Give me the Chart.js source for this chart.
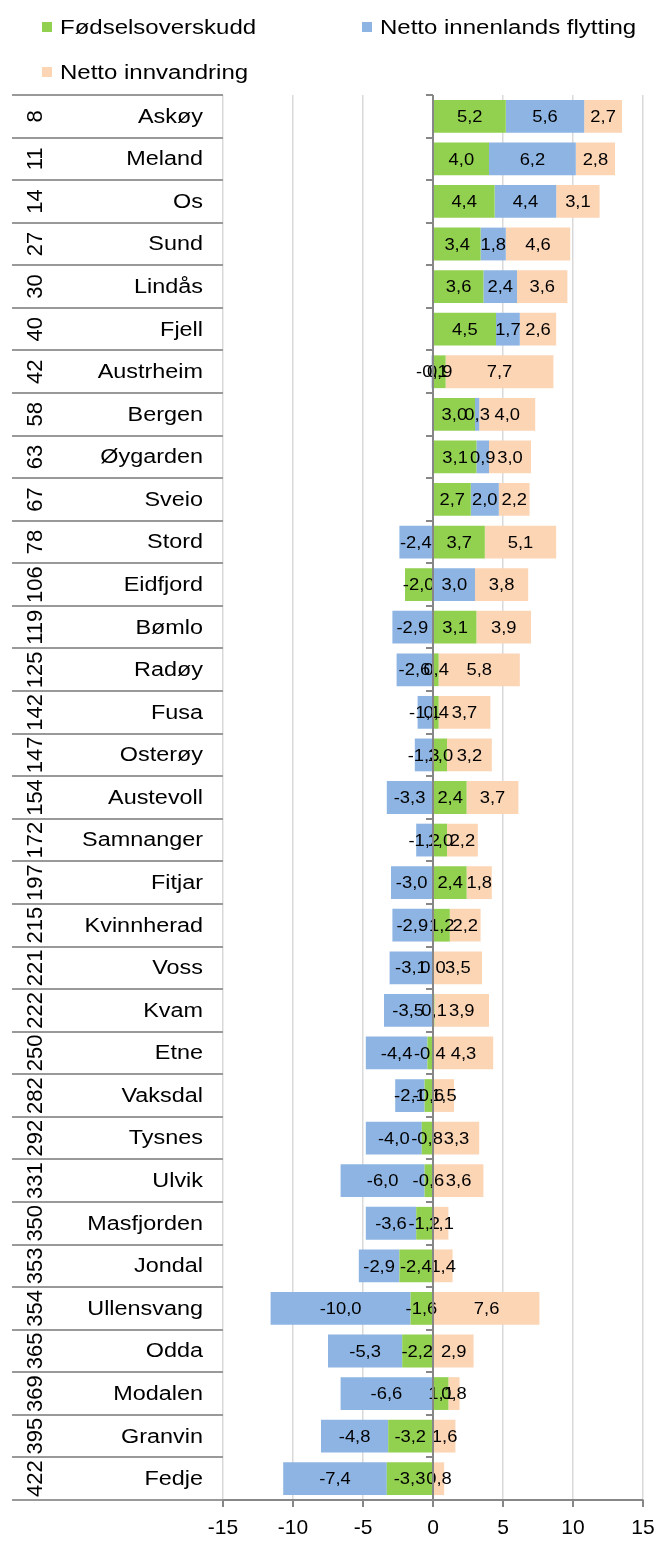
<!DOCTYPE html>
<html>
<head>
<meta charset="utf-8">
<script src="https://cdn.jsdelivr.net/npm/chart.js@4.4.1/dist/chart.umd.min.js"></script>
<style>
  body { margin: 0; background: #fff; font-family: "Liberation Sans", Arial, sans-serif; }
  #wrap { position: relative; width: 657px; height: 1549px; }
  #wrap canvas { position: absolute; left: 0; top: 0; }
  .lg { position: absolute; height: 24px; line-height: 24px; font-size: 20px; color: #000; white-space: nowrap; }
  .lg i { position: absolute; left: 0; top: 7px; width: 10px; height: 10px; }
  .lg span { position: absolute; left: 18px; top: 0; transform: scaleX(1.2); transform-origin: left center; }
</style>
</head>
<body>
<div id="wrap">
  <canvas id="chart" width="657" height="1549"></canvas>
  <div class="lg" style="left:42px;top:15px"><i style="background:#92d050"></i><span>Fødselsoverskudd</span></div>
  <div class="lg" style="left:362px;top:15px"><i style="background:#8db4e2"></i><span>Netto innenlands flytting</span></div>
  <div class="lg" style="left:42px;top:60px"><i style="background:#fcd5b5"></i><span>Netto innvandring</span></div>
</div>
<script>
const ranks = [8, 11, 14, 27, 30, 40, 42, 58, 63, 67, 78, 106, 119, 125, 142, 147, 154,
  172, 197, 215, 221, 222, 250, 282, 292, 331, 350, 353, 354, 365, 369, 395, 422];
const kommuner = ["Askøy", "Meland", "Os", "Sund", "Lindås", "Fjell", "Austrheim", "Bergen",
  "Øygarden", "Sveio", "Stord", "Eidfjord", "Bømlo", "Radøy", "Fusa", "Osterøy", "Austevoll",
  "Samnanger", "Fitjar", "Kvinnherad", "Voss", "Kvam", "Etne", "Vaksdal", "Tysnes", "Ulvik",
  "Masfjorden", "Jondal", "Ullensvang", "Odda", "Modalen", "Granvin", "Fedje"];
const fodselsoverskudd = [5.2, 4.0, 4.4, 3.4, 3.6, 4.5, 0.9, 3.0, 3.1, 2.7, 3.7, -2.0, 3.1, 0.4,
  0.4, 1.0, 2.4, 1.0, 2.4, 1.2, 0.0, 0.1, -0.4, -0.6, -0.8, -0.6, -1.2, -2.4, -1.6, -2.2, 1.1, -3.2, -3.3];
const innenlandsFlytting = [5.6, 6.2, 4.4, 1.8, 2.4, 1.7, -0.1, 0.3, 0.9, 2.0, -2.4, 3.0, -2.9, -2.6,
  -1.1, -1.3, -3.3, -1.2, -3.0, -2.9, -3.1, -3.5, -4.4, -2.1, -4.0, -6.0, -3.6, -2.9, -10.0, -5.3, -6.6, -4.8, -7.4];
const innvandring = [2.7, 2.8, 3.1, 4.6, 3.6, 2.6, 7.7, 4.0, 3.0, 2.2, 5.1, 3.8, 3.9, 5.8,
  3.7, 3.2, 3.7, 2.2, 1.8, 2.2, 3.5, 3.9, 4.3, 1.5, 3.3, 3.6, 1.1, 1.4, 7.6, 2.9, 0.8, 1.6, 0.8];
const xTicks = [-15, -10, -5, 0, 5, 10, 15];

const AXIS_GREY = "#878787";

function drawStretched(ctx, text, x, y, align, sx) {
  ctx.save();
  ctx.translate(x, y);
  ctx.scale(sx, 1);
  ctx.textAlign = align;
  ctx.fillText(text, 0, 0);
  ctx.restore();
}

const fmt = (v) => v.toFixed(1).replace(".", ",");

const decor = {
  id: "decor",
  afterDatasetsDraw(chart) {
    const { ctx, chartArea } = chart;
    const xs = chart.scales.x;
    const ys = chart.scales.y;
    const n = kommuner.length;
    const rowH = (chartArea.bottom - chartArea.top) / n;
    const x0 = xs.getPixelForValue(0);

    ctx.save();
    // data labels
    ctx.fillStyle = "#000";
    ctx.font = "17px 'Liberation Sans', Arial, sans-serif";
    ctx.textBaseline = "middle";
    chart.data.datasets.forEach((ds, di) => {
      const meta = chart.getDatasetMeta(di);
      meta.data.forEach((el, i) => {
        const cx = (el.x + el.base) / 2;
        drawStretched(ctx, fmt(ds.data[i]), cx, el.y + 1, "center", 1.08);
      });
    });

    // zero axis with category tick marks
    ctx.strokeStyle = AXIS_GREY;
    ctx.lineWidth = 2;
    ctx.beginPath();
    ctx.moveTo(x0, chartArea.top);
    ctx.lineTo(x0, chartArea.bottom);
    for (let i = 0; i <= n; i++) {
      const y = Math.round(chartArea.top + i * rowH);
      ctx.moveTo(x0 - 7, y);
      ctx.lineTo(x0, y);
    }
    ctx.stroke();

    // row lines in the label area
    ctx.strokeStyle = "#999";
    ctx.lineWidth = 2;
    ctx.beginPath();
    for (let i = 0; i <= n; i++) {
      const y = Math.round(chartArea.top + i * rowH);
      ctx.moveTo(12, y);
      ctx.lineTo(chartArea.left, y);
    }
    ctx.stroke();

    // bottom tick marks and labels
    ctx.strokeStyle = AXIS_GREY;
    ctx.beginPath();
    xTicks.forEach((t) => {
      const x = xs.getPixelForValue(t);
      ctx.moveTo(x, chartArea.bottom);
      ctx.lineTo(x, chartArea.bottom + 7);
    });
    ctx.stroke();
    ctx.font = "21px 'Liberation Sans', Arial, sans-serif";
    xTicks.forEach((t) => {
      drawStretched(ctx, String(t), xs.getPixelForValue(t), chartArea.bottom + 28, "center", 1);
    });

    // category labels
    kommuner.forEach((name, i) => {
      const y = ys.getPixelForValue(i);
      ctx.font = "19.5px 'Liberation Sans', Arial, sans-serif";
      drawStretched(ctx, name, 203, y + 1, "right", 1.2);
      ctx.save();
      ctx.translate(35, y);
      ctx.rotate(-Math.PI / 2);
      ctx.font = "22px 'Liberation Sans', Arial, sans-serif";
      ctx.textAlign = "center";
      ctx.fillText(String(ranks[i]), 0, 1);
      ctx.restore();
    });
    ctx.restore();
  },
};

new Chart(document.getElementById("chart"), {
  type: "bar",
  data: {
    labels: kommuner,
    datasets: [
      { label: "Fødselsoverskudd", data: fodselsoverskudd, backgroundColor: "#92d050" },
      { label: "Netto innenlands flytting", data: innenlandsFlytting, backgroundColor: "#8db4e2" },
      { label: "Netto innvandring", data: innvandring, backgroundColor: "#fcd5b5" },
    ],
  },
  options: {
    indexAxis: "y",
    responsive: false,
    animation: false,
    devicePixelRatio: 1,
    layout: { padding: { left: 223, right: 14, top: 95, bottom: 49 } },
    datasets: { bar: { categoryPercentage: 1, barPercentage: 0.77 } },
    plugins: { legend: { display: false }, tooltip: { enabled: false } },
    scales: {
      x: {
        stacked: true,
        min: -15,
        max: 15,
        ticks: { display: false, stepSize: 5 },
        grid: {
          drawTicks: false,
          lineWidth: 1.5,
          color: (c) => (c.tick && c.tick.value === 0 ? "rgba(0,0,0,0)" : "#d9d9d9"),
        },
        border: { display: true, color: AXIS_GREY, width: 2 },
      },
      y: {
        stacked: true,
        display: false,
      },
    },
  },
  plugins: [decor],
});
</script>
</body>
</html>
